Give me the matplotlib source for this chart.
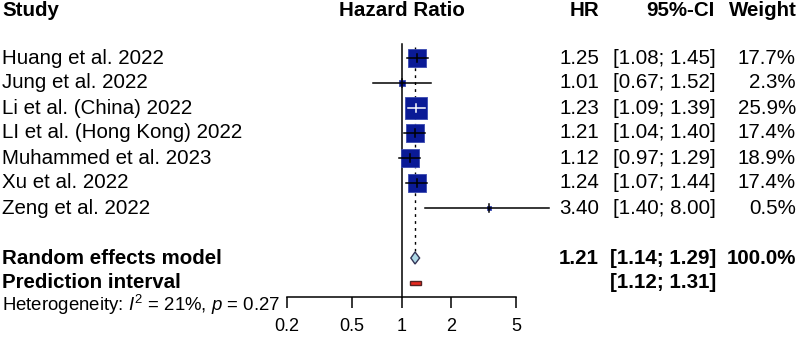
import numpy as np
import matplotlib
matplotlib.use("Agg")
import matplotlib.pyplot as plt

plt.rcParams['font.family'] = ['Liberation Sans', 'DejaVu Sans']
plt.rcParams['mathtext.fontset'] = 'custom'
plt.rcParams['mathtext.rm'] = 'Liberation Sans'
plt.rcParams['mathtext.it'] = 'Liberation Sans:italic'

# study data
studies = ["Huang et al. 2022", "Jung et al. 2022", "Li et al. (China) 2022",
           "LI et al. (Hong Kong) 2022", "Muhammed et al. 2023", "Xu et al. 2022",
           "Zeng et al. 2022"]
hr = [1.25, 1.01, 1.23, 1.21, 1.12, 1.24, 3.40]
lo = [1.08, 0.67, 1.09, 1.04, 0.97, 1.07, 1.40]
hi = [1.45, 1.52, 1.39, 1.40, 1.29, 1.44, 8.00]
weight = [17.7, 2.3, 25.9, 17.4, 18.9, 17.4, 0.5]

re_hr, re_lo, re_hi = 1.21, 1.14, 1.29
pi_lo, pi_hi = 1.12, 1.31
ticks = [0.2, 0.5, 1, 2, 5]
tick_labels = ["0.2", "0.5", "1", "2", "5"]

W, H = 797, 341
fs = 14.8
fs_small = 13.4

fig = plt.figure(figsize=(W/100, H/100), dpi=100)

# text layer in pixel coords
tx = fig.add_axes([0, 0, 1, 1])
tx.set_xlim(0, W)
tx.set_ylim(H, 0)
tx.axis('off')

# forest panel, y in pixels from top
ax = fig.add_axes([287/W, (H-297)/H, 229/W, 297/H])
ax.set_xscale('log')
ax.set_xlim(0.2, 5)
ax.set_ylim(297, 0)
ax.patch.set_alpha(0)
for s in ['top', 'right', 'left']:
    ax.spines[s].set_visible(False)
ax.spines['bottom'].set_linewidth(1.1)
ax.set_yticks([])
ax.set_xticks(ticks)
ax.set_xticklabels(tick_labels)
ax.minorticks_off()
ax.tick_params(axis='x', length=8, width=1.1, labelsize=13, pad=7)

rows = [58 + 25*i for i in range(len(studies))]
y_re, y_pi, y_het, y_head = 258, 283, 305, 10

# reference lines
ax.plot([1, 1], [44, 297], color='black', lw=1.1, clip_on=False)
ax.plot([re_hr, re_hr], [47, 251], color='black', lw=1, ls=(0, (2, 3)), clip_on=False)

# squares + CIs
px_per_dec = 229/np.log10(25)
for i in range(len(studies)):
    y = rows[i]
    side_px = 4.3*np.sqrt(weight[i])
    half = side_px/2/px_per_dec
    inside = (np.log10(lo[i]) >= np.log10(hr[i]) - half) and (np.log10(hi[i]) <= np.log10(hr[i]) + half)
    ax.scatter([hr[i]], [y], marker='s', s=(side_px*0.72)**2, color='#0a1a96',
               edgecolors='#3a4ab0', linewidths=0.6, zorder=3, clip_on=False)
    c = 'white' if inside else 'black'
    ax.plot([lo[i], hi[i]], [y, y], color=c, lw=1.1, zorder=4, clip_on=False)
    ax.plot([hr[i], hr[i]], [y-4, y+4], color=c, lw=1.1, zorder=4, clip_on=False)

# diamond
ax.fill([re_lo, re_hr, re_hi, re_hr], [y_re, y_re-6, y_re, y_re+6],
        facecolor='#add8e6', edgecolor='#333355', lw=1, zorder=3, clip_on=False)
# prediction interval
ax.fill([pi_lo, pi_hi, pi_hi, pi_lo], [y_pi-2.3, y_pi-2.3, y_pi+2.3, y_pi+2.3],
        facecolor='#e8281e', edgecolor='#552222', lw=1, zorder=3, clip_on=False)

# headers
tx.text(2, y_head, "Study", fontsize=fs, fontweight='bold', va='center', ha='left')
tx.text(402, y_head, "Hazard Ratio", fontsize=fs, fontweight='bold', va='center', ha='center')
tx.text(599, y_head, "HR", fontsize=fs, fontweight='bold', va='center', ha='right')
tx.text(715, y_head, "95%-CI", fontsize=fs, fontweight='bold', va='center', ha='right')
tx.text(797, y_head, "Weight", fontsize=fs, fontweight='bold', va='center', ha='right')

for i in range(len(studies)):
    y = rows[i]
    tx.text(2, y, studies[i], fontsize=fs, va='center', ha='left')
    tx.text(599, y, f"{hr[i]:.2f}", fontsize=fs, va='center', ha='right')
    tx.text(716, y, f"[{lo[i]:.2f}; {hi[i]:.2f}]", fontsize=fs, va='center', ha='right')
    tx.text(796, y, f"{weight[i]:.1f}%", fontsize=fs, va='center', ha='right')

tx.text(2, y_re, "Random effects model", fontsize=fs, fontweight='bold', va='center', ha='left')
tx.text(599, y_re, f"{re_hr:.2f}", fontsize=fs, fontweight='bold', va='center', ha='right')
tx.text(716, y_re, f"[{re_lo:.2f}; {re_hi:.2f}]", fontsize=fs, fontweight='bold', va='center', ha='right')
tx.text(796, y_re, "100.0%", fontsize=fs, fontweight='bold', va='center', ha='right')

tx.text(2, y_pi, "Prediction interval", fontsize=fs, fontweight='bold', va='center', ha='left')
tx.text(716, y_pi, f"[{pi_lo:.2f}; {pi_hi:.2f}]", fontsize=fs, fontweight='bold', va='center', ha='right')

tx.text(2, y_het, r"Heterogeneity: $\mathit{I}^2$ = 21%, $\mathit{p}$ = 0.27",
        fontsize=fs_small, va='center', ha='left')

fig.savefig("out.png", dpi=100)
